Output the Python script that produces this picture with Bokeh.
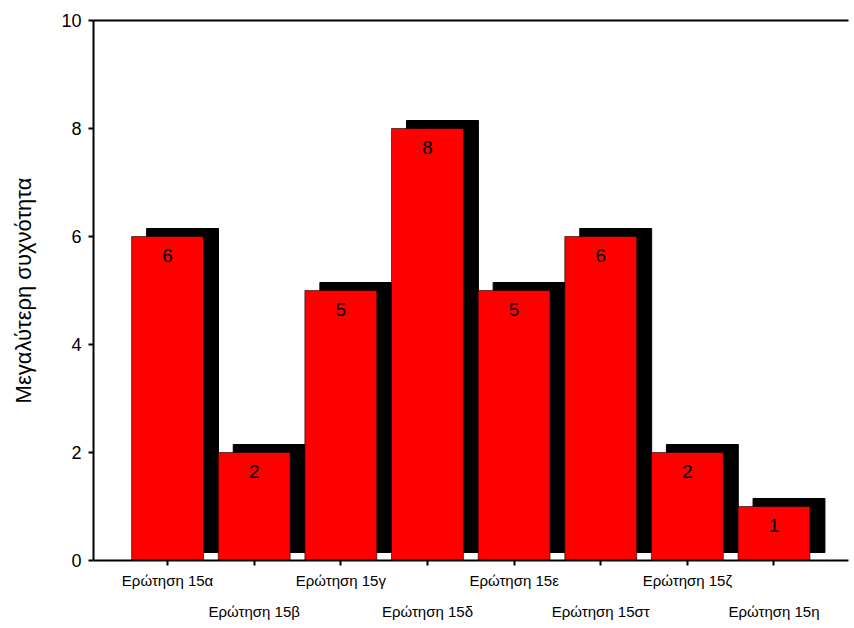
from bokeh.plotting import figure
from bokeh.models import Range1d, FixedTicker, LinearAxis, ColumnDataSource
from bokeh.core.properties import value
from bokeh.embed import file_html
from bokeh.resources import INLINE

categories = ["Ερώτηση 15α", "Ερώτηση 15β", "Ερώτηση 15γ", "Ερώτηση 15δ",
              "Ερώτηση 15ε", "Ερώτηση 15στ", "Ερώτηση 15ζ", "Ερώτηση 15η"]
counts = [6, 2, 5, 8, 5, 6, 2, 1]
y_ticks = [0, 2, 4, 6, 8, 10]

FONT = "Liberation Sans"
xs = list(range(len(categories)))
bw = 0.83
dx = 0.173
dy = 0.148

src = ColumnDataSource(dict(
    x=xs, top=counts,
    sl=[x - bw / 2 + dx for x in xs], sr=[x + bw / 2 + dx for x in xs],
    sb=[dy] * len(xs), st=[c + dy for c in counts],
    lab=[str(c) for c in counts],
))

p = figure(width=852, height=626, output_backend="svg", toolbar_location=None,
           x_range=Range1d(-0.855, 7.86), y_range=Range1d(0, 10),
           x_axis_location=None, y_axis_location=None)
p.min_border_left = 93
p.min_border_top = 20
p.min_border_bottom = 66
p.min_border_right = 4
p.outline_line_color = None
p.xgrid.visible = False
p.ygrid.visible = False

# shadows
p.quad(left="sl", right="sr", bottom="sb", top="st", source=src,
       fill_color="black", line_color="black")
# bars
p.vbar(x="x", top="top", width=bw, bottom=0, source=src,
       fill_color="#FF0000", line_color="black", line_width=0.6)
p.text(x="x", y="top", text="lab", source=src, text_align="center",
       text_baseline="top", y_offset=12, text_font=value(FONT),
       text_font_size="19px", text_color="black")

# y axis
yax = LinearAxis(ticker=FixedTicker(ticks=y_ticks), axis_label="Μεγαλύτερη συχνότητα")
yax.axis_line_width = 2
yax.major_tick_out = 5
yax.major_tick_in = 0
yax.major_tick_line_width = 2
yax.minor_tick_out = 0
yax.minor_tick_in = 0
yax.major_label_text_font = FONT
yax.major_label_text_font_size = "18px"
yax.major_label_text_color = "black"
yax.major_label_standoff = 7
yax.axis_label_text_font = FONT
yax.axis_label_text_font_size = "22px"
yax.axis_label_text_font_style = "normal"
yax.axis_label_text_color = "black"
yax.axis_label_standoff = 22
p.add_layout(yax, "left")

# top border
tax = LinearAxis(ticker=FixedTicker(ticks=[]))
tax.axis_line_width = 2
tax.major_tick_out = 0
tax.major_tick_in = 0
tax.minor_tick_out = 0
tax.minor_tick_in = 0
tax.major_label_text_font_size = "0px"
p.add_layout(tax, "above")

# x axis (first row of labels)
xax1 = LinearAxis(ticker=FixedTicker(ticks=xs))
xax1.major_label_overrides = {i: (categories[i] if i % 2 == 0 else "") for i in xs}
xax1.axis_line_width = 2
xax1.major_tick_out = 5
xax1.major_tick_in = 0
xax1.major_tick_line_width = 2
xax1.minor_tick_out = 0
xax1.minor_tick_in = 0
xax1.major_label_text_font = FONT
xax1.major_label_text_font_size = "15px"
xax1.major_label_text_color = "black"
xax1.major_label_standoff = 6
p.add_layout(xax1, "below")

# x axis (second row of labels)
xax2 = LinearAxis(ticker=FixedTicker(ticks=xs))
xax2.major_label_overrides = {i: (categories[i] if i % 2 == 1 else "") for i in xs}
xax2.axis_line_color = None
xax2.major_tick_out = 0
xax2.major_tick_in = 0
xax2.minor_tick_out = 0
xax2.minor_tick_in = 0
xax2.major_label_text_font = FONT
xax2.major_label_text_font_size = "15px"
xax2.major_label_text_color = "black"
xax2.major_label_standoff = 11
p.add_layout(xax2, "below")

open("out.html", "w").write(file_html(p, INLINE))
